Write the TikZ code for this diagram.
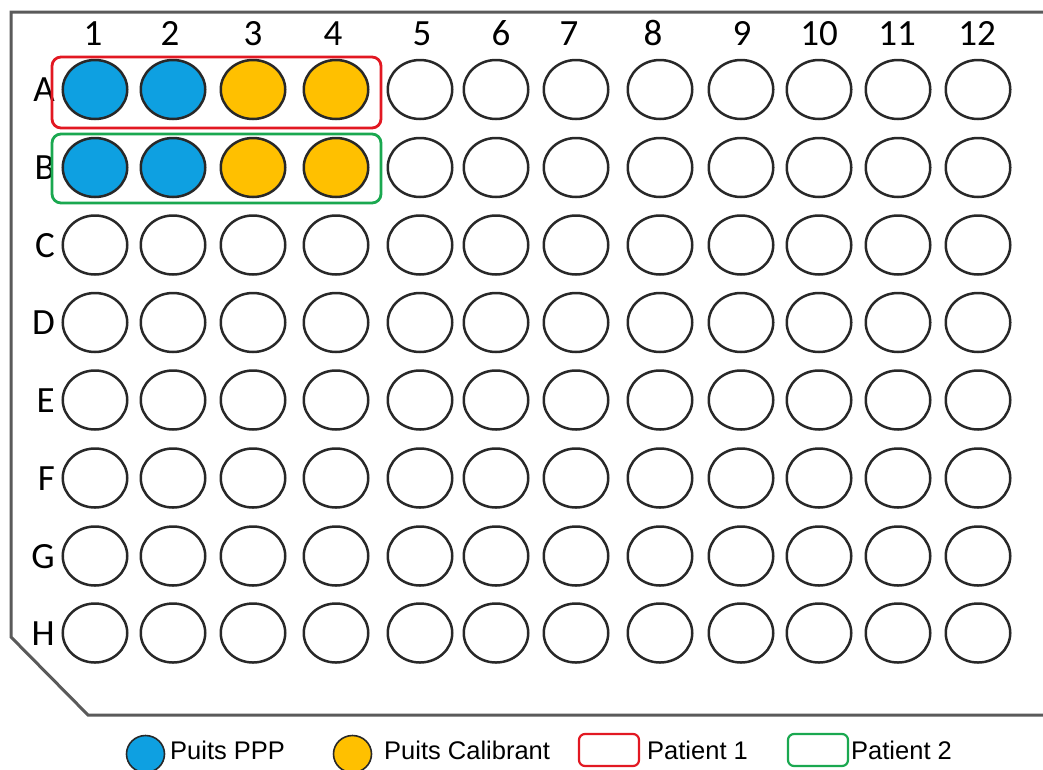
\documentclass[tikz,border=0pt]{standalone}
\usepackage{fontspec}
\setmainfont{Carlito}
\newfontfamily\legendfont{Liberation Sans}
\usetikzlibrary{shapes.geometric}
\definecolor{wellblue}{RGB}{14,160,225}
\definecolor{wellgold}{RGB}{255,192,0}
\definecolor{wellline}{RGB}{40,40,40}
\definecolor{plateline}{RGB}{90,90,90}
\definecolor{pat1}{RGB}{226,24,34}
\definecolor{pat2}{RGB}{26,168,80}
\tikzset{
  well/.style={ellipse, draw=wellline, line width=2.5pt, minimum width=64.5pt, minimum height=59pt, inner sep=0pt, fill=white},
  ppp/.style={well, fill=wellblue},
  calib/.style={well, fill=wellgold},
  collabel/.style={font=\fontsize{37}{40}\selectfont, anchor=base, inner sep=0pt, text=black},
  rowlabel/.style={font=\fontsize{37}{40}\selectfont, anchor=base east, inner sep=0pt, text=black},
  platebox/.style={draw=plateline, line width=3pt},
  patbox/.style={line width=2.8pt, rounded corners=9pt},
  legtext/.style={font=\legendfont\fontsize{25.5}{28}\selectfont, anchor=base west, inner sep=0pt},
  legdot/.style={ellipse, draw=wellline, line width=1.6pt, minimum width=38pt, minimum height=37pt, inner sep=0pt},
  legbox/.style={line width=2.2pt, rounded corners=6pt, minimum width=60pt, minimum height=32pt, inner sep=0pt},
}
\begin{document}
\begin{tikzpicture}[x=1pt,y=-1pt]
\useasboundingbox (0,0) rectangle (1043,769);
\fill[white] (0,0) rectangle (1043,769);
% plate outline
\draw[platebox, line join=miter] (1050,12) -- (11,12) -- (11,637) -- (88,715) -- (1050,715);
% wells
\foreach \c/\x [count=\i] in {1/95,2/173,3/253,4/336,5/420,6/496,7/576,8/660,9/741,10/819,11/898,12/978}{
  \foreach \r/\y in {A/89.5,B/167.5,C/245,D/322.5,E/400,F/478,G/556,H/633}{
    \ifnum\i<3
      \def\wstyle{ppp}
    \else\ifnum\i<5
      \def\wstyle{calib}
    \else
      \def\wstyle{well}
    \fi\fi
    \if A\r \else\if B\r \else \def\wstyle{well}\fi\fi
    \node[\wstyle] (w-\r-\c) at (\x,\y) {};
  }
}
% column labels
\foreach \c/\x in {1/93,2/170,3/253,4/333,5/422,6/501,7/569,8/653,9/742,10/819,11/897,12/977}{
  \node[collabel] (col-\c) at (\x,45) {\c};
}
% row labels
\foreach \r/\y in {A/89.5,B/167.5,C/245,D/322.5,E/400,F/478,G/556,H/633}{
  \node[rowlabel] (row-\r) at (55,\y+12) {\r};
}
% patient boxes
\draw[patbox, draw=pat1] (52,57) rectangle (381,128);
\draw[patbox, draw=pat2] (52,134) rectangle (381,203);
% legend
\node[legdot, fill=wellblue] (leg-ppp) at (145.5,754) {};
\node[legtext] (leg-ppp-t) at (170,759) {Puits PPP};
\node[legdot, fill=wellgold] (leg-cal) at (352.5,754) {};
\node[legtext] (leg-cal-t) at (384,759) {Puits Calibrant};
\node[legbox, draw=pat1] (leg-p1) at (609,750) {};
\node[legtext] (leg-p1-t) at (647,759) {Patient 1};
\node[legbox, draw=pat2] (leg-p2) at (818,750) {};
\node[legtext] (leg-p2-t) at (851,759) {Patient 2};
\end{tikzpicture}
\end{document}
